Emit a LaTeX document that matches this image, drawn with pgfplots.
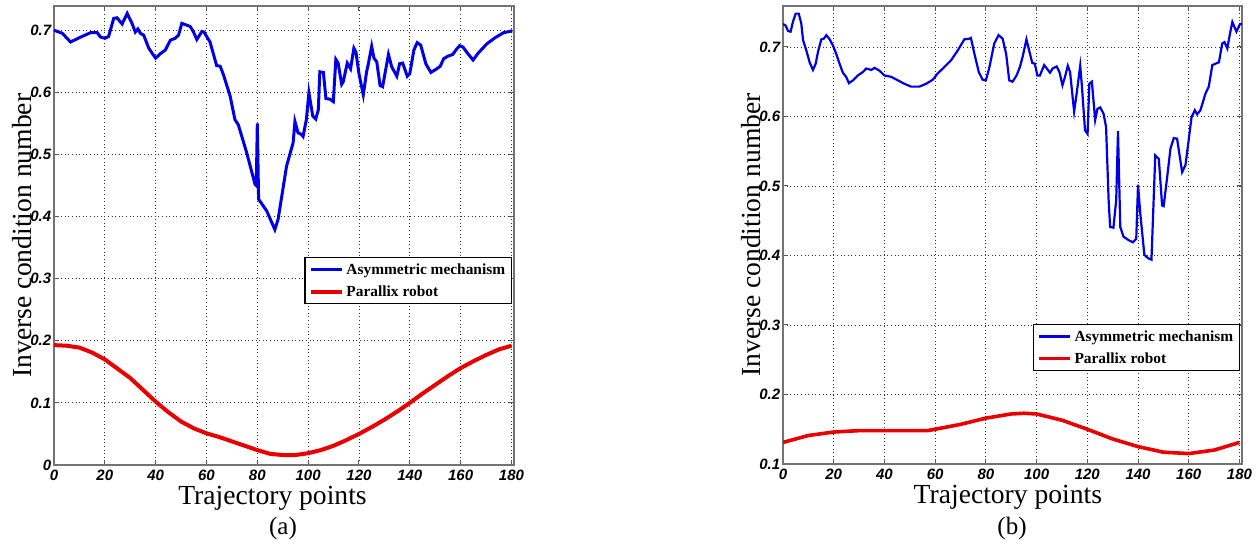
\documentclass[border=0pt]{standalone}
\usepackage{fontspec}
\setmainfont{Liberation Serif}
\newfontfamily\arialfont{Liberation Sans}
\usepackage{pgfplots}
\pgfplotsset{compat=1.18}

\definecolor{curveblue}{RGB}{0,0,230}
\definecolor{curvered}{RGB}{235,0,0}

\pgfplotsset{
  panel/.style={
    scale only axis,
    xmin=0, xmax=181,
    xtick={0,20,...,180},
    ytick distance=0.1,
    grid=major,
    major grid style={dash pattern=on 0.5pt off 1.3pt, black!80, line width=0.4pt},
    axis line style={black!55, line width=0.7pt},
    tick style={black!65, line width=0.5pt},
    tick align=inside,
    major tick length=2.5pt,
    /pgf/number format/assume math mode=true,
    ticklabel style={font=\arialfont\bfseries\itshape\fontsize{7.5}{8}\selectfont},
    xticklabel style={inner sep=1pt, yshift=-1.5pt},
    yticklabel style={inner sep=1.2pt},
    xlabel={Trajectory points},
    ylabel={Inverse condition number},
    label style={font=\fontsize{13.8}{15}\selectfont},
    ylabel style={at={(axis description cs:-0.0695,0.5)}, anchor=center},
    legend cell align=left,
    legend image code/.code={\draw[##1] (0pt,0pt) -- (15.5pt,0pt);},
    legend style={font=\bfseries\fontsize{7.7}{9}\selectfont, draw=black,
      line width=0.6pt, inner xsep=2pt, inner ysep=0.5pt,
      nodes={inner xsep=1.2pt, inner ysep=1pt, text height=7pt, text depth=2pt}},
  }
}

\begin{document}
\begin{tikzpicture}
\useasboundingbox (0,0) rectangle (630pt,273pt);

% (a)
\begin{axis}[panel, at={(27pt,40.5pt)}, anchor=origin,
  width=230pt, height=229.5pt,
  ymin=0, ymax=0.739,
  xlabel style={at={(axis description cs:0.475,-0.072)}, anchor=center},
  legend style={at={(axis description cs:0.996,0.453)}, anchor=north east}]
\addplot[curveblue, line width=1.5pt] coordinates {
(0,0.700)(3.3,0.695)(6.5,0.681)(10.5,0.689)(14.4,0.696)(17,0.696)(18.3,0.689)(20,0.687)
(21.5,0.690)(23.5,0.719)(24.8,0.720)(26.8,0.710)(28.8,0.727)(30.7,0.711)(32,0.697)(33,0.702)
(34,0.695)(35.3,0.692)(37.3,0.671)(38.6,0.663)(40,0.655)(41.8,0.662)(43.8,0.668)(45.8,0.684)
(47.7,0.687)(49,0.692)(50.3,0.711)(52.3,0.708)(53.6,0.706)(54.9,0.697)(56.2,0.685)(58.2,0.698)
(59,0.697)(61.4,0.681)(64,0.643)(65.4,0.642)(66.7,0.628)(69.3,0.594)(71.2,0.556)(72.5,0.548)
(75.8,0.503)(79.1,0.452)(79.6,0.450)(80,0.550)(80.5,0.428)(83.7,0.409)(86.9,0.379)(88.2,0.396)
(91.5,0.481)(94.1,0.519)(94.8,0.553)(96,0.535)(97.4,0.532)(98,0.529)(99.3,0.556)(100.3,0.599)
(101.8,0.562)(103,0.557)(104,0.572)(104.6,0.633)(106,0.632)(107,0.590)(108.6,0.589)(109.9,0.585)
(110.9,0.653)(111.8,0.647)(113.2,0.613)(113.8,0.617)(115.4,0.647)(116.7,0.638)(118,0.671)
(118.8,0.665)(120,0.630)(121.7,0.596)(123,0.633)(123.6,0.644)(125,0.674)(125.9,0.655)(127,0.649)
(128.3,0.611)(129.3,0.609)(131.6,0.661)(132.9,0.641)(134.9,0.626)(136,0.646)(137.2,0.647)
(139,0.626)(140,0.630)(141.6,0.668)(142.9,0.680)(144.3,0.676)(146.3,0.646)(148.3,0.632)
(150.3,0.637)(152,0.642)(153.3,0.654)(154.9,0.658)(156.9,0.661)(158.3,0.669)(159.6,0.675)
(160.9,0.673)(162.9,0.662)(164.9,0.652)(166.9,0.663)(170.3,0.678)(173.6,0.688)(176.9,0.696)
(180.3,0.699)};
\addlegendentry{Asymmetric mechanism}
\addplot[curvered, line width=2pt] coordinates {
(0,0.193)(5,0.192)(10,0.189)(15,0.181)(20,0.170)(25,0.155)(30,0.140)(35,0.121)(40,0.102)
(45,0.085)(50,0.070)(55,0.059)(60,0.051)(65,0.045)(70,0.038)(75,0.031)(80,0.024)(85,0.018)
(90,0.016)(95,0.016)(100,0.019)(105,0.024)(110,0.031)(115,0.040)(120,0.050)(125,0.061)
(130,0.073)(135,0.086)(140,0.100)(145,0.115)(150,0.129)(155,0.143)(160,0.156)(165,0.167)
(170,0.177)(175,0.186)(180,0.192)};
\addlegendentry{Parallix robot}
\end{axis}

% (b)
\begin{axis}[panel, at={(391.5pt,41pt)}, anchor=origin,
  width=229.5pt, height=229pt,
  ymin=0.1, ymax=0.759,
  xlabel style={at={(axis description cs:0.49,-0.073)}, anchor=center},
  legend style={at={(axis description cs:0.996,0.306)}, anchor=north east}]
\addplot[curveblue, line width=1.1pt] coordinates {
(0,0.733)(1,0.731)(2,0.723)(3,0.722)(3.9,0.736)(5,0.748)(6.2,0.748)(7.2,0.734)(7.9,0.710)
(9.2,0.695)(10.5,0.678)(11.8,0.667)(12.9,0.676)(13.8,0.693)(15.1,0.711)(16.1,0.712)(17.1,0.717)
(18.4,0.711)(19.7,0.702)(21,0.690)(22.3,0.676)(23.6,0.663)(24.9,0.657)(26,0.648)(27.6,0.652)
(29.5,0.659)(31.5,0.664)(32.8,0.669)(34.8,0.667)(36.1,0.670)(38,0.666)(40,0.659)(42.7,0.657)
(45.3,0.652)(47.9,0.647)(50.5,0.643)(53.8,0.643)(56.4,0.647)(59.1,0.653)(61,0.662)(63.6,0.671)
(66.3,0.681)(68.9,0.695)(71.5,0.711)(73.5,0.712)(74.1,0.713)(75.5,0.690)(77.2,0.664)(78.7,0.653)
(80,0.652)(81.4,0.671)(83.3,0.705)(85,0.717)(86.6,0.712)(88,0.690)(89.2,0.652)(90.5,0.650)
(92.1,0.659)(93.4,0.671)(94.5,0.686)(96,0.711)(97.4,0.690)(98.3,0.677)(99.3,0.676)(100.3,0.659)
(101.3,0.659)(103,0.674)(105.3,0.663)(106.3,0.669)(107.9,0.672)(109,0.664)(110.2,0.645)
(111.2,0.657)(112.3,0.673)(113.2,0.664)(114.8,0.607)(115.8,0.633)(117.2,0.673)(117.8,0.647)
(119.1,0.580)(120.1,0.575)(120.8,0.647)(121.8,0.650)(123.1,0.595)(124,0.611)(125.1,0.613)
(126.4,0.604)(127.4,0.585)(128.4,0.480)(129,0.441)(130.3,0.440)(131.4,0.480)(132.1,0.579)
(133,0.441)(134.3,0.427)(136.3,0.422)(138,0.419)(139.3,0.424)(140,0.502)(140.9,0.460)
(142.5,0.401)(144,0.396)(145.3,0.394)(146.8,0.544)(148.2,0.539)(149.5,0.472)(150.1,0.471)
(151.5,0.513)(152.8,0.554)(154.1,0.569)(155.4,0.568)(156.1,0.551)(157.4,0.520)(158.7,0.530)
(159.8,0.561)(161.1,0.599)(162.4,0.609)(163.3,0.603)(164.6,0.609)(166.6,0.633)(167.9,0.643)
(169.3,0.674)(170.6,0.676)(171.9,0.678)(173.2,0.705)(174.1,0.707)(175.2,0.698)(176.3,0.720)
(177.2,0.736)(178.8,0.722)(180.2,0.733)(181,0.733)};
\addlegendentry{Asymmetric mechanism}
\addplot[curvered, line width=1.8pt] coordinates {
(0,0.131)(10,0.141)(20,0.146)(30,0.148)(40,0.148)(50,0.148)(57,0.148)(60,0.150)(70,0.157)
(80,0.166)(90,0.172)(95,0.173)(100,0.172)(110,0.163)(120,0.150)(130,0.136)(140,0.125)
(150,0.117)(160,0.115)(170,0.120)(180,0.131)};
\addlegendentry{Parallix robot}
\end{axis}

\node[font=\fontsize{12.5}{14}\selectfont] at (141.5pt,9pt) {(a)};
\node[font=\fontsize{12.5}{14}\selectfont] at (506pt,9pt) {(b)};
\end{tikzpicture}
\end{document}
